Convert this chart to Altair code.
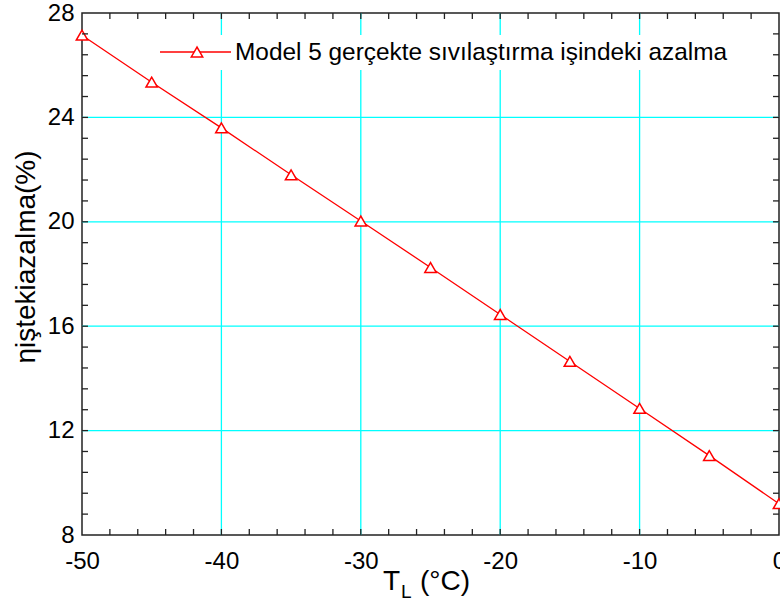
import altair as alt
import pandas as pd

# Measured series: liquefaction-work reduction vs. low-side temperature
t_low = [-50, -45, -40, -35, -30, -25, -20, -15, -10, -5, 0]
reduction = [27.15, 25.35, 23.6, 21.8, 20.03, 18.25, 16.45, 14.65, 12.85, 11.04, 9.2]
series_name = "Model 5 gerçekte sıvılaştırma işindeki azalma"

# Axis ticks and grid positions
x_labels = [-50, -40, -30, -20, -10, 0]
y_labels = [8, 12, 16, 20, 24, 28]
x_grid = [-40, -30, -20, -10]
y_grid = [12, 16, 20, 24]
x_minor = [-48, -46, -44, -42, -40, -38, -36, -34, -32, -30, -28, -26, -24, -22,
           -20, -18, -16, -14, -12, -10, -8, -6, -4, -2]
y_minor = [8.8, 9.6, 10.4, 11.2, 12.0, 12.8, 13.6, 14.4, 15.2, 16.0, 16.8, 17.6,
           18.4, 19.2, 20.0, 20.8, 21.6, 22.4, 23.2, 24.0, 24.8, 25.6, 26.4, 27.2]

W, H = 697, 522
FONT = "Liberation Sans"
RED = "#ff0000"
CYAN = "#00ffff"
FRAME = "#222222"
TICK = 6

df = pd.DataFrame({"t": t_low, "r": reduction})
xt = pd.DataFrame({"v": x_minor})
yt = pd.DataFrame({"v": y_minor})
xg = pd.DataFrame({"v": x_grid})
yg = pd.DataFrame({"v": y_grid})
one = pd.DataFrame({"k": [0]})

x_scale = alt.Scale(domain=[-50, 0], nice=False, zero=False)
y_scale = alt.Scale(domain=[8, 28], nice=False, zero=False)

label_style = dict(ticks=False, domain=False, grid=False, title=None,
                   labelFontSize=24, labelFont=FONT, labelColor="black",
                   labelFlush=False, labelOverlap=False,
                   labelExpr="'' + datum.value")
x_axis = alt.Axis(values=x_labels, labelPadding=14, **label_style)
y_axis = alt.Axis(values=y_labels, labelPadding=8, **label_style)


def X(field):
    return alt.X(field, scale=x_scale, axis=x_axis)


def Y(field):
    return alt.Y(field, scale=y_scale, axis=y_axis)


# Cyan grid at the major ticks
grid_x = alt.Chart(xg).mark_rule(color=CYAN, strokeWidth=1.3).encode(
    x=X("v:Q"), y=alt.value(0), y2=alt.value(H))
grid_y = alt.Chart(yg).mark_rule(color=CYAN, strokeWidth=1.3).encode(
    y=Y("v:Q"), x=alt.value(0), x2=alt.value(W))

line = alt.Chart(df).mark_line(color=RED, strokeWidth=1.3).encode(
    x=X("t:Q"), y=Y("r:Q"))
points = alt.Chart(df).mark_point(
    shape="triangle-up", size=130, filled=True, fill="white",
    stroke=RED, strokeWidth=1.5, opacity=1
).encode(x=X("t:Q"), y=Y("r:Q"))

# Inward ticks on all four sides of the frame
tick_style = dict(color=FRAME, strokeWidth=1.3)
ticks_bottom = alt.Chart(xt).mark_rule(**tick_style).encode(
    x=X("v:Q"), y=alt.value(H), y2=alt.value(H - TICK))
ticks_top = alt.Chart(xt).mark_rule(**tick_style).encode(
    x=X("v:Q"), y=alt.value(0), y2=alt.value(TICK))
ticks_left = alt.Chart(yt).mark_rule(**tick_style).encode(
    y=Y("v:Q"), x=alt.value(0), x2=alt.value(TICK))
ticks_right = alt.Chart(yt).mark_rule(**tick_style).encode(
    y=Y("v:Q"), x=alt.value(W), x2=alt.value(W - TICK))

# Legend drawn inside the plot on a white box
leg_box = alt.Chart(one).mark_rect(color="white").encode(
    x=alt.value(68), x2=alt.value(653), y=alt.value(22), y2=alt.value(57))
leg_line = alt.Chart(one).mark_rule(color=RED, strokeWidth=1.3).encode(
    x=alt.value(78), x2=alt.value(149), y=alt.value(39))
leg_point = alt.Chart(one).mark_point(
    shape="triangle-up", size=130, filled=True, fill="white",
    stroke=RED, strokeWidth=1.5, opacity=1
).encode(x=alt.value(115), y=alt.value(39))
leg_text = alt.Chart(one).mark_text(
    text=series_name, font=FONT, fontSize=24.4, align="left",
    baseline="middle", color="black"
).encode(x=alt.value(153), y=alt.value(40))

# Axis titles (x title carries a subscript)
xt_T = alt.Chart(one).mark_text(text="T", font=FONT, fontSize=28, align="left",
                                baseline="alphabetic", color="black").encode(
    x=alt.value(301), y=alt.value(577))
xt_L = alt.Chart(one).mark_text(text="L", font=FONT, fontSize=19, align="left",
                                baseline="alphabetic", color="black").encode(
    x=alt.value(319), y=alt.value(585))
xt_unit = alt.Chart(one).mark_text(text="(°C)", font=FONT, fontSize=28, align="left",
                                   baseline="alphabetic", color="black").encode(
    x=alt.value(338), y=alt.value(577))
y_title = alt.Chart(one).mark_text(text="ηiştekiazalma(%)", font=FONT, fontSize=28,
                                   align="center", baseline="alphabetic",
                                   angle=270, color="black").encode(
    x=alt.value(-47), y=alt.value(244))

chart = alt.layer(
    grid_x, grid_y,
    line, points,
    ticks_bottom, ticks_top, ticks_left, ticks_right,
    leg_box, leg_line, leg_point, leg_text,
    xt_T, xt_L, xt_unit, y_title,
).properties(
    width=W, height=H,
    autosize=alt.AutoSizeParams(type="none"),
    padding={"left": 82, "top": 13, "right": 1, "bottom": 73},
    background="white",
).configure_view(stroke=FRAME, strokeWidth=1.5)

chart.save("out.html", embed_options={"renderer": "svg", "actions": False})
